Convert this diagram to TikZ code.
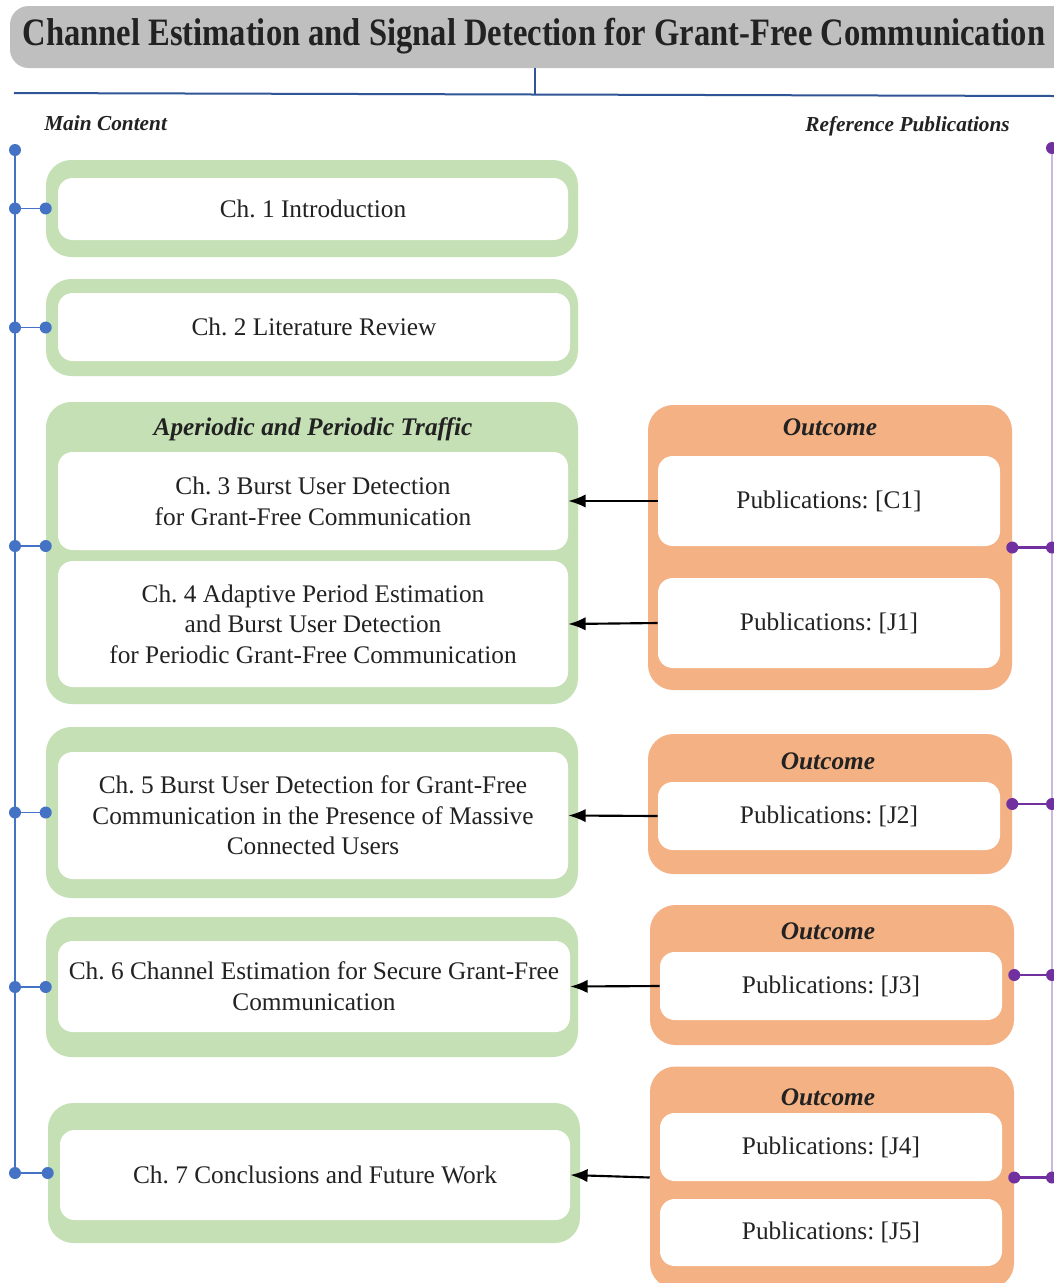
\documentclass[tikz,border=0pt]{standalone}
\usepackage{fontspec}
\setmainfont{Liberation Serif}
\usetikzlibrary{arrows.meta,calc}
\definecolor{grn}{HTML}{C5E0B4}
\definecolor{org}{HTML}{F4B183}
\definecolor{gry}{HTML}{BFBFBF}
\definecolor{blu}{HTML}{4472C4}
\definecolor{dblu}{HTML}{2F5597}
\definecolor{pur}{HTML}{7030A0}
\definecolor{lav}{HTML}{CDB8DC}
\definecolor{txt}{HTML}{222222}
\newcommand\bodyfont{\fontsize{19}{23}\selectfont}
\newcommand\hdrfont{\fontsize{19}{23}\selectfont\bfseries\itshape}
\newcommand\smallhdr{\fontsize{16}{19}\selectfont\bfseries\itshape}
\frenchspacing
\begin{document}
\begin{tikzpicture}[x=0.75pt,y=-0.75pt,
  sz/.style 2 args={minimum width=#1*0.75pt, minimum height=#2*0.75pt},
  gout/.style={fill=grn, rounded corners=19pt, inner sep=0pt},
  oout/.style={fill=org, rounded corners=19pt, inner sep=0pt},
  wbox/.style={fill=white, rounded corners=11pt, inner sep=0pt, align=center, font=\bodyfont, text=txt},
  hdr/.style={font=\hdrfont, text=txt, inner sep=0pt},
  arr/.style={-{Latex[length=13pt,width=10pt]}, line width=1.6pt, black},
  bline/.style={draw=blu, line width=1.7pt},
  pline/.style={draw=pur, line width=1.7pt},
  lline/.style={draw=lav, line width=1.5pt},
  tline/.style={draw=dblu, line width=1.5pt},
  bdot/.style={circle, fill=blu, inner sep=0pt, minimum size=9pt},
  pdot/.style={circle, fill=pur, inner sep=0pt, minimum size=9pt}]
\clip (0,0) rectangle (1054,1283);
\fill[white] (0,0) rectangle (1054,1283);

% title
\node[fill=gry, rounded corners=14pt, inner sep=0pt, sz={1060}{62}] (T) at (540,37) {};
\node[inner sep=0pt, text=txt] (title) at (534,36) {\resizebox{767pt}{20.5pt}{\bfseries Channel Estimation and Signal Detection for Grant-Free Communication}};
\coordinate (H) at (535,94);
\coordinate (HL) at (14,93);
\coordinate (HR) at (1054,96);
\draw[tline] (H |- T.south) -- (H);
\draw[tline] (HL) -- (HR);

\node[inner sep=0pt, anchor=base west, font=\smallhdr, text=txt] (mc) at (44,130) {Main Content};
\node[inner sep=0pt, anchor=base east, font=\smallhdr, text=txt] (rp) at (1010,131) {Reference Publications};

% green outer boxes
\node[gout, sz={532}{97}] (G1) at (312,208.5) {};
\node[gout, sz={532}{97}] (G2) at (312,327.5) {};
\node[gout, sz={532}{302}] (G3) at (312,553) {};
\node[gout, sz={532}{171}] (G4) at (312,812.5) {};
\node[gout, sz={532}{140}] (G5) at (312,987) {};
\node[gout, sz={532}{140}] (G6) at (314,1173) {};

% orange outer boxes
\node[oout, sz={364}{285}] (O1) at (830,547.5) {};
\node[oout, sz={364}{140}] (O2) at (830,804) {};
\node[oout, sz={364}{140}] (O3) at (832,975) {};
\node[oout, sz={364}{222}] (O4) at (832,1177.5) {};

% headers
\node[hdr] (h3) at (313,429) {Aperiodic and Periodic Traffic};
\node[hdr] (ho1) at (830,427) {Outcome};
\node[hdr] (ho2) at (828,761) {Outcome};
\node[hdr] (ho3) at (828,931) {Outcome};
\node[hdr] (ho4) at (828,1097) {Outcome};

% white chapter boxes
\node[wbox, sz={510}{62}] (W1) at (313,209) {Ch. 1 Introduction};
\node[wbox, sz={512}{68}] (W2) at (314,327) {Ch. 2 Literature Review};
\node[wbox, sz={510}{98}] (W3) at (313,501) {Ch. 3 Burst User Detection\\for Grant-Free Communication};
\node[wbox, sz={510}{126}] (W4) at (313,624) {Ch. 4 Adaptive Period Estimation\\and Burst User Detection\\for Periodic Grant-Free Communication};
\node[wbox, sz={510}{127}] (W5) at (313,815.5) {Ch. 5 Burst User Detection for Grant-Free\\Communication in the Presence of Massive\\Connected Users};
\node[wbox, sz={512}{91}] (W6) at (314,986.5) {Ch. 6 Channel Estimation for Secure Grant-Free\\Communication};
\node[wbox, sz={510}{90}] (W7) at (315,1175) {Ch. 7 Conclusions and Future Work};

% white publication boxes
\node[wbox, sz={342}{90}] (P1) at (829,501) {Publications: [C1]};
\node[wbox, sz={342}{90}] (P2) at (829,623) {Publications: [J1]};
\node[wbox, sz={342}{68}] (P3) at (829,816) {Publications: [J2]};
\node[wbox, sz={342}{68}] (P4) at (831,986) {Publications: [J3]};
\node[wbox, sz={342}{68}] (P5) at (831,1147) {Publications: [J4]};
\node[wbox, sz={342}{67}] (P6) at (831,1232.5) {Publications: [J5]};

% arrows
\draw[arr] (P1.west) -- (W3.east);
\draw[arr] (P2.west) -- (W4.east);
\draw[arr] (P3.west) -- (W5.east);
\draw[arr] (P4.west) -- (W6.east);
\draw[arr] (O4.west) -- (W7.east);

% left trunk
\coordinate (L0) at (15,150);
\coordinate (L1) at (15,208.5);
\coordinate (L2) at (15,327.5);
\coordinate (L3) at (15,546);
\coordinate (L4) at (15,812.5);
\coordinate (L5) at (15,987);
\coordinate (L6) at (15,1173);
\draw[bline] (L0) -- (L6);
\draw[bline, line width=1.4pt] (L1) -- (G1.west);
\draw[bline, line width=1.4pt] (L2) -- (G2.west);
\draw[bline, line width=1.4pt] (L3) -- (L3 -| G3.west);
\draw[bline, line width=1.4pt] (L4) -- (G4.west);
\draw[bline, line width=1.4pt] (L5) -- (G5.west);
\draw[bline, line width=1.4pt] (L6) -- (G6.west);
\foreach \p in {L0,L1,L2,L3,L4,L5,L6} \node[bdot] at (\p) {};
\foreach \g in {G1,G2,G4,G5,G6} \node[bdot] at (\g.west) {};
\node[bdot] at (L3 -| G3.west) {};

% right trunk
\coordinate (R0) at (1052,148);
\draw[lline] (R0) -- (R0 |- O4.east);
\foreach \o in {O1,O2,O3,O4} {
  \draw[pline] (\o.east) -- (\o.east -| R0);
  \node[pdot] at (\o.east) {};
  \node[pdot] at (\o.east -| R0) {};
}
\node[pdot] at (R0) {};
\end{tikzpicture}
\end{document}
